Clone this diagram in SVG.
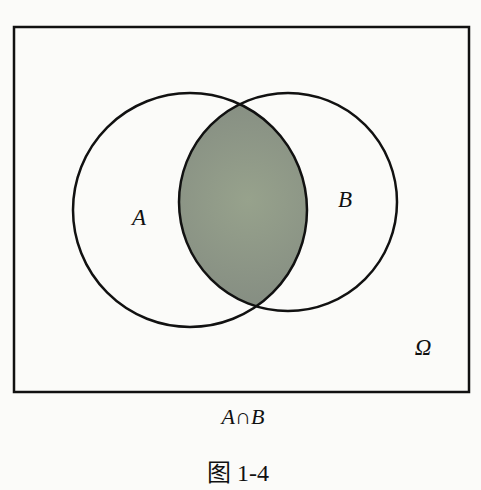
<svg xmlns="http://www.w3.org/2000/svg" width="481" height="490" viewBox="0 0 481 490">
  <defs>
    <radialGradient id="shade" gradientUnits="userSpaceOnUse" cx="248" cy="200" r="110">
      <stop offset="0" stop-color="#97a28c"/>
      <stop offset="1" stop-color="#858d82"/>
    </radialGradient>
    <clipPath id="clipA"><circle cx="190" cy="210" r="117"/></clipPath>
  </defs>
  <style>
    .ln { fill: none; stroke: #111; stroke-width: 2.5; }
    .lbl { font-family: "Liberation Serif", "DejaVu Serif", serif; font-style: italic; fill: #111; }
    .cap { font-family: "Liberation Serif", "Noto Sans CJK SC", serif; fill: #111; }
  </style>
  <rect x="0" y="0" width="481" height="490" fill="#fbfbf9"/>
  <g id="universe">
    <rect x="14" y="27" width="455" height="365" fill="#fdfdfc" class="ln" stroke-width="2"/>
    <text class="lbl" x="423" y="355" font-size="23" text-anchor="middle">Ω</text>
  </g>
  <g id="intersection">
    <circle cx="288" cy="202" r="109" fill="url(#shade)" clip-path="url(#clipA)"/>
  </g>
  <g id="setA">
    <circle class="ln" cx="190" cy="210" r="117"/>
    <text class="lbl" x="139" y="225" font-size="23" text-anchor="middle">A</text>
  </g>
  <g id="setB">
    <circle class="ln" cx="288" cy="202" r="109"/>
    <text class="lbl" x="345" y="207" font-size="23" text-anchor="middle">B</text>
  </g>
  <g id="captions">
    <text class="lbl" x="243" y="424" font-size="22" text-anchor="middle">A∩B</text>
    <text class="cap" x="238" y="481" font-size="24" text-anchor="middle">图 1-4</text>
  </g>
</svg>
